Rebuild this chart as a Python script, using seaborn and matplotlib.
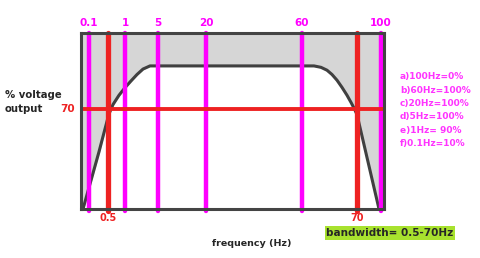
import matplotlib
matplotlib.use("Agg")
import matplotlib.pyplot as plt
import seaborn as sns
import numpy as np
import pandas as pd

# schematic frequency positions (not a true scale)
freq_labels_top = ["0.1", "1", "5", "20", "60", "100"]
freq_pos_top = [8, 44, 77, 125, 221, 300]
cutoff_labels = ["0.5", "70"]
cutoff_pos = [27, 276]
cutoff_level = 70

# response curve (schematic position, % voltage output)
curve_x = [2, 10, 18, 24, 28, 32, 38, 44, 50, 56, 62, 69,
           233, 240, 246, 251, 256, 261, 266, 270, 273, 276, 298]
curve_y = [0, 20, 40, 56, 66.5, 73, 79.5, 84.8, 89.5, 94, 97.8, 100,
           100, 99, 97, 94, 90, 85, 79.5, 74.5, 70.5, 66, 0]

notes = ["a)100Hz=0%", "b)60Hz=100%", "c)20Hz=100%", "d)5Hz=100%", "e)1Hz= 90%", "f)0.1Hz=10%"]

sns.set_style("white")
plt.rcParams['font.family'] = ['DejaVu Sans']

fig = plt.figure(figsize=(4.8, 2.58), dpi=100)
ax = fig.add_axes([81/480, (258-209)/258, (384-81)/480, (209-33)/258])
XMAX, YMAX = 303, 123
ax.set_xlim(0, XMAX)
ax.set_ylim(0, YMAX)

df = pd.DataFrame({"pos": curve_x, "pct": curve_y})
ax.fill_between(curve_x, curve_y, YMAX, color="#d6d6d6", zorder=1)
ax.fill_between([0, curve_x[0]], 0, YMAX, color="#d6d6d6", zorder=1)
ax.fill_between([curve_x[-1], XMAX], 0, YMAX, color="#d6d6d6", zorder=1)

sns.lineplot(data=df, x="pos", y="pct", ax=ax, color="#404040", lw=2.2, zorder=3,
             sort=False)

for p in freq_pos_top:
    ax.axvline(p, ymin=-0.01, ymax=1, color="#ff00ff", lw=3.2, zorder=4, clip_on=False)
for p in cutoff_pos:
    ax.axvline(p, ymin=-0.01, ymax=1, color="#ee2222", lw=3.8, zorder=4, clip_on=False)
ax.axhline(cutoff_level, color="#ee2222", lw=2.8, zorder=4)

for s in ax.spines.values():
    s.set_color("#444444")
    s.set_linewidth(2.2)
    s.set_zorder(6)
ax.set_xticks([])
ax.set_yticks([])
ax.set_xlabel("")
ax.set_ylabel("")

for lab, p in zip(freq_labels_top, freq_pos_top):
    ax.text(p, YMAX + 7, lab, color="#ff00ff", fontsize=7.5, fontweight="bold",
            ha="center", va="center", clip_on=False)
for lab, p in zip(cutoff_labels, cutoff_pos):
    ax.text(p, -6, lab, color="#ee2222", fontsize=7, fontweight="bold",
            ha="center", va="center", clip_on=False)
ax.text(-6, cutoff_level, str(cutoff_level), color="#ee2222", fontsize=7.5,
        fontweight="bold", ha="right", va="center", clip_on=False)

fig.text(5/480, 1 - 95/258, "% voltage", fontsize=7.3, fontweight="bold", va="center")
fig.text(5/480, 1 - 109/258, "output", fontsize=7.3, fontweight="bold", va="center")
fig.text(252/480, 1 - 243/258, "frequency (Hz)", fontsize=6.8, fontweight="bold",
         ha="center", va="center")
fig.text(390/480, 1 - 233/258, "bandwidth= 0.5-70Hz", fontsize=7.5, fontweight="bold",
         ha="center", va="center",
         bbox=dict(boxstyle="square,pad=0.15", fc="#a8e22e", ec="none"))

for i, t in enumerate(notes):
    fig.text(400/480, 1 - (77 + 13.3*i)/258, t, color="#ff33ff", fontsize=6.5,
             fontweight="bold", va="center")

fig.savefig("out.png", dpi=100)
